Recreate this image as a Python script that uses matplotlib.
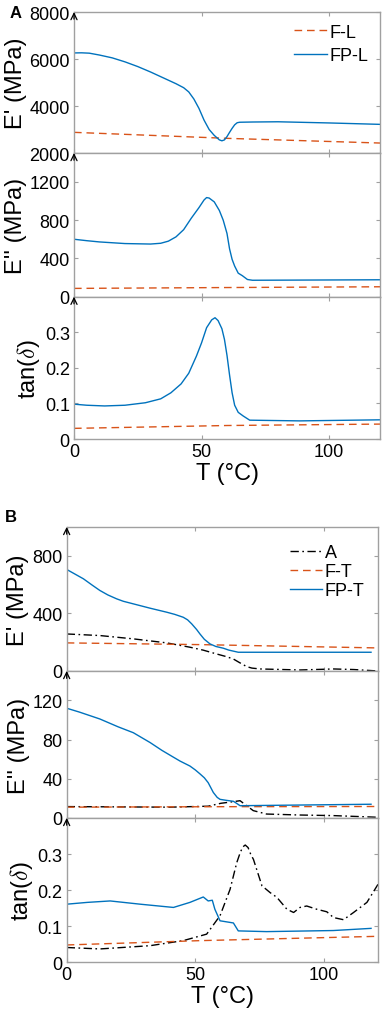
import numpy as np
import matplotlib
matplotlib.use("Agg")
import matplotlib.pyplot as plt

plt.rcParams["font.family"] = ["Liberation Sans", "DejaVu Sans"]
plt.rcParams["mathtext.fontset"] = "cm"

BLUE = "#0072BD"
ORANGE = "#D95319"
GRAY = "#a0a0a0"
DASH = (5.5, 3.5)
DASHDOT = (6, 2.5, 1.2, 2.5)

# ---- panel A (longitudinal) ----
a_e1_fp_t = [0, 3, 6, 10, 15, 20, 25, 30, 35, 40, 43, 45, 47, 49, 51, 53, 55, 57, 58, 59,
             60, 61, 62, 63, 64, 65, 70, 80, 100, 120]
a_e1_fp = [6260, 6265, 6250, 6170, 6050, 5880, 5680, 5450, 5200, 4950, 4780, 4600, 4300, 3900,
           3400, 3000, 2750, 2560, 2520, 2560, 2700, 2880, 3050, 3200, 3290, 3310, 3320, 3330, 3280, 3220]
a_e1_f_t = [0, 60, 120]
a_e1_f = [2880, 2625, 2425]

a_e2_fp_t = [0, 5, 10, 20, 30, 34, 37, 40, 43, 46, 49, 51, 52, 53, 55, 57, 58.5, 60, 61, 62, 63,
             64.4, 66, 68, 70, 120]
a_e2_fp = [600, 585, 572, 555, 550, 558, 580, 625, 700, 820, 930, 1010, 1035, 1030, 990, 900, 800,
           660, 500, 390, 320, 246, 220, 180, 172, 177]
a_e2_f_t = [0, 60, 120]
a_e2_f = [87, 96, 104]

a_tan_fp_t = [0, 5, 12, 20, 28, 34, 38, 42, 45, 48, 50, 52, 54, 55.3, 56.5, 58, 59, 60, 61, 62,
              63, 64.4, 66.3, 68.9, 88.5, 120]
a_tan_fp = [0.098, 0.095, 0.093, 0.095, 0.102, 0.113, 0.130, 0.155, 0.185, 0.233, 0.270, 0.313,
            0.335, 0.341, 0.333, 0.310, 0.280, 0.235, 0.180, 0.130, 0.095, 0.075, 0.065, 0.053,
            0.051, 0.054]
a_tan_f_t = [0, 60, 120]
a_tan_f = [0.030, 0.038, 0.042]

# ---- panel B (transverse) ----
b_e1_fp_t = [0, 3, 6.5, 10, 12.9, 16, 19.4, 22, 25.9, 32.4, 38.9, 42, 45.3, 47, 48.6, 50.5, 51.8,
             53.5, 55.7, 58, 60.9, 63, 66.7, 118.3]
b_e1_fp = [705, 675, 640, 595, 559, 528, 501, 484, 466, 436, 408, 393, 373, 355, 327, 288, 257,
           220, 188, 170, 158, 145, 130, 130]
b_e1_a_t = [0, 12.9, 25.9, 38.9, 47.9, 53, 58.3, 62, 64.8, 67, 69, 70, 72, 75.2, 90.8, 103.8, 111.6, 121]
b_e1_a = [257, 246, 223, 195, 165, 145, 118, 100, 83, 60, 40, 30, 20, 14, 7, 14, 10, 0]
b_e1_f_t = [0, 51.8, 121]
b_e1_f = [195, 183, 160]

b_e2_fp_t = [0, 5, 12.9, 20, 25.9, 32.4, 37, 41.5, 44.1, 47.9, 50, 51.8, 53.5, 55, 56, 57, 58.5,
             59.6, 62, 64.8, 66, 67.4, 118.3]
b_e2_fp = [112, 108, 101, 93, 87, 77, 69, 62, 58, 53, 49, 45, 41, 36, 31, 26, 21, 19, 18, 17, 15,
           12.5, 14]
b_e2_a_t = [0, 40, 55, 60, 63, 67.4, 72.5, 77.7, 90.7, 103.7, 121]
b_e2_a = [11.6, 11, 12, 15, 16, 17.6, 7.5, 4, 3, 2.4, 0.7]
b_e2_f_t = [0, 60, 121]
b_e2_f = [11, 11.5, 11.7]

b_tan_fp_t = [0, 8, 16.9, 28.6, 41.5, 47.9, 53.1, 55, 56.6, 57.6, 59.6, 64.8, 66.7, 77.7, 103.6, 118.3]
b_tan_fp = [0.161, 0.166, 0.170, 0.161, 0.152, 0.166, 0.181, 0.170, 0.172, 0.147, 0.115, 0.109,
            0.087, 0.085, 0.088, 0.094]
b_tan_a_t = [0, 12.9, 32.4, 45.3, 54.4, 59.6, 63.5, 66.1, 67.5, 68.5, 69.4, 70.5, 71.5, 72.6, 75.9,
             79.1, 81.7, 85.6, 88.2, 90.7, 93.3, 97.2, 101.1, 103.7, 107.6, 111.5, 116.7, 121]
b_tan_a = [0.041, 0.037, 0.046, 0.060, 0.078, 0.129, 0.202, 0.276, 0.305, 0.320, 0.325, 0.318,
           0.300, 0.285, 0.212, 0.193, 0.180, 0.147, 0.138, 0.152, 0.156, 0.147, 0.140, 0.124,
           0.118, 0.138, 0.166, 0.216]
b_tan_f_t = [0, 51.8, 121]
b_tan_f = [0.048, 0.060, 0.072]

x_ticks = [0, 50, 100]


def style_axis(ax, xmax, ylim, yticks, ylabel, show_x):
    ax.set_xlim(0, xmax)
    ax.set_ylim(*ylim)
    ax.set_yticks(yticks)
    ax.set_xticks(x_ticks)
    for sp in ax.spines.values():
        sp.set_color(GRAY)
        sp.set_linewidth(1.0)
    ax.tick_params(direction="in", length=3, width=0.8, color=GRAY, labelsize=13,
                   top=True, right=True, labelbottom=show_x, pad=3)
    ax.set_ylabel(ylabel, fontsize=17, labelpad=2)
    if show_x:
        ax.set_xlabel("T (°C)", fontsize=17, labelpad=1)
    ax.annotate("", xy=(0, 1.0), xytext=(0, 0.95), xycoords="axes fraction",
                arrowprops=dict(arrowstyle="->,head_length=0.45,head_width=0.22",
                                color="k", lw=0.9, shrinkA=0, shrinkB=0),
                annotation_clip=False)


fig = plt.figure(figsize=(3.83, 10.2), dpi=100)

ax_a1 = fig.add_axes([0.1932, 0.849, 0.799, 0.1382])
ax_a2 = fig.add_axes([0.1932, 0.7081, 0.799, 0.1409])
ax_a3 = fig.add_axes([0.1932, 0.5686, 0.799, 0.1395])
ax_b1 = fig.add_axes([0.1741, 0.3412, 0.8128, 0.1412])
ax_b2 = fig.add_axes([0.1741, 0.1971, 0.8128, 0.1441])
ax_b3 = fig.add_axes([0.1741, 0.0556, 0.8128, 0.1415])

lw = 1.0
ax_a1.plot(a_e1_f_t, a_e1_f, "--", dashes=DASH, color=ORANGE, lw=lw, label="F-L")
ax_a1.plot(a_e1_fp_t, a_e1_fp, "-", color=BLUE, lw=lw, label="FP-L")
ax_a2.plot(a_e2_f_t, a_e2_f, "--", dashes=DASH, color=ORANGE, lw=lw)
ax_a2.plot(a_e2_fp_t, a_e2_fp, "-", color=BLUE, lw=lw)
ax_a3.plot(a_tan_f_t, a_tan_f, "--", dashes=DASH, color=ORANGE, lw=lw)
ax_a3.plot(a_tan_fp_t, a_tan_fp, "-", color=BLUE, lw=lw)

ax_b1.plot(b_e1_a_t, b_e1_a, "-.", dashes=DASHDOT, color="k", lw=lw, label="A")
ax_b1.plot(b_e1_f_t, b_e1_f, "--", dashes=DASH, color=ORANGE, lw=lw, label="F-T")
ax_b1.plot(b_e1_fp_t, b_e1_fp, "-", color=BLUE, lw=lw, label="FP-T")
ax_b2.plot(b_e2_a_t, b_e2_a, "-.", dashes=DASHDOT, color="k", lw=lw)
ax_b2.plot(b_e2_f_t, b_e2_f, "--", dashes=DASH, color=ORANGE, lw=lw)
ax_b2.plot(b_e2_fp_t, b_e2_fp, "-", color=BLUE, lw=lw)
ax_b3.plot(b_tan_a_t, b_tan_a, "-.", dashes=DASHDOT, color="k", lw=lw)
ax_b3.plot(b_tan_f_t, b_tan_f, "--", dashes=DASH, color=ORANGE, lw=lw)
ax_b3.plot(b_tan_fp_t, b_tan_fp, "-", color=BLUE, lw=lw)

style_axis(ax_a1, 120, (2000, 8000), [2000, 4000, 6000, 8000], "E' (MPa)", False)
style_axis(ax_a2, 120, (0, 1500), [0, 400, 800, 1200], "E'' (MPa)", False)
style_axis(ax_a3, 120, (0, 0.4), [0, 0.1, 0.2, 0.3], r"tan($\delta$)", True)
style_axis(ax_b1, 121, (0, 1000), [0, 400, 800], "E' (MPa)", False)
style_axis(ax_b2, 121, (0, 150), [0, 40, 80, 120], "E'' (MPa)", False)
style_axis(ax_b3, 121, (0, 0.4), [0, 0.1, 0.2, 0.3], r"tan($\delta$)", True)

for ax in (ax_a3, ax_b3):
    ax.set_yticklabels(["0", "0.1", "0.2", "0.3"])

ax_a1.legend(loc="upper right", bbox_to_anchor=(0.985, 0.97), frameon=False, fontsize=13,
             handlelength=1.8, handletextpad=0.15, labelspacing=0.35, borderaxespad=0)
ax_b1.legend(loc="upper right", bbox_to_anchor=(0.98, 0.93), frameon=False, fontsize=13,
             handlelength=1.8, handletextpad=0.15, labelspacing=0.1, borderaxespad=0)

fig.text(10 / 383, 1 - 13 / 1020, "A", fontsize=12, fontweight="bold", va="center", ha="left")
fig.text(5 / 383, 1 - 518 / 1020, "B", fontsize=12, fontweight="bold", va="center", ha="left")

fig.savefig("out.png", dpi=100)
